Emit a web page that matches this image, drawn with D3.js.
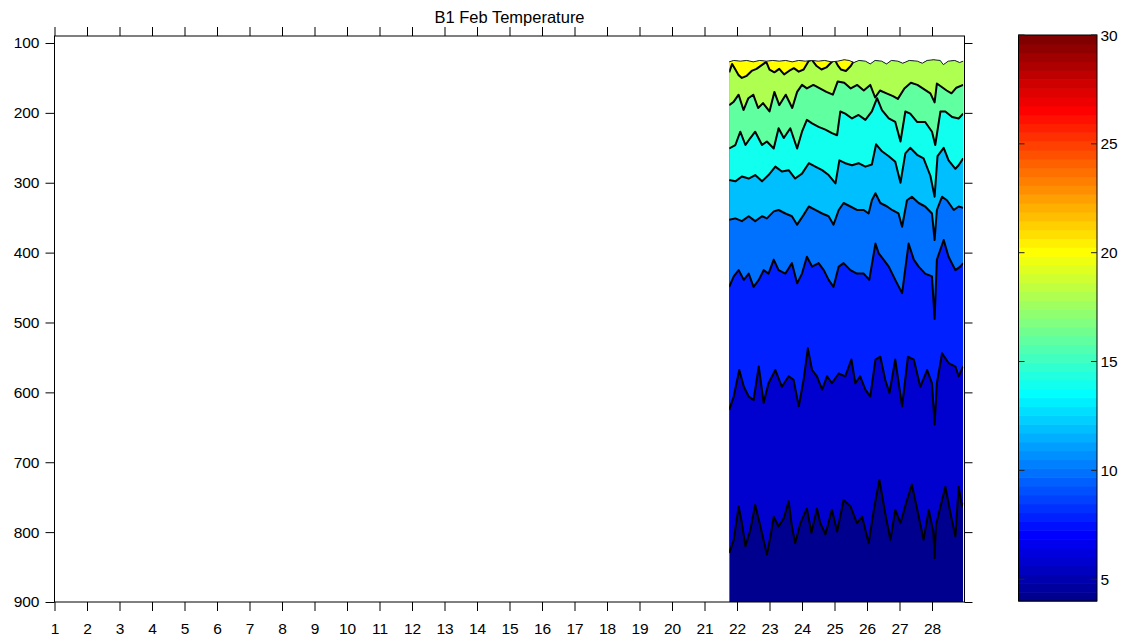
<!DOCTYPE html>
<html><head><meta charset="utf-8">
<script src="https://cdn.jsdelivr.net/npm/d3@7"></script>
<style>body{margin:0;background:#fff} text{font-family:"Liberation Sans",Arial,Helvetica,sans-serif;fill:#000}</style>
</head><body>
<svg id="c" width="1129" height="640"></svg>
<script>
const title = "B1 Feb Temperature";
const xTicks = [1,2,3,4,5,6,7,8,9,10,11,12,13,14,15,16,17,18,19,20,21,22,23,24,25,26,27,28];
const yTicks = [100,200,300,400,500,600,700,800,900];
const cbTicks = [5,10,15,20,25,30];
const xDomain = [1,29], yDomain = [90,900], cDomain = [4,30];
const levels = [6,8,10,12,14,16,18,20];

// top of the sampled water column [day, depth]
const topSurface = [[21.76,127],[21.9,125],[22.1,126],[22.3,125],[22.5,127],[22.7,125],[22.9,126],[23.1,125],[23.3,126],[23.5,125],[23.7,127],[23.9,125],[24.1,126],[24.3,125],[24.5,126],[24.7,125],[24.9,127],[25.1,126],[25.3,124],[25.45,125],[25.6,128],[25.75,125],[25.95,126],[26.1,130],[26.25,125],[26.45,126],[26.6,130],[26.75,125],[26.95,126],[27.1,129],[27.3,125],[27.55,126],[27.7,129],[27.85,125],[28.05,124],[28.25,125],[28.35,131],[28.5,126],[28.7,125],[28.85,128],[28.96,126]];

// isotherm depths [day, depth]
const iso6 = [[21.76,830],[21.90,811],[22.05,763],[22.15,787],[22.26,820],[22.41,797],[22.56,761],[22.72,792],[22.92,832],[23.03,806],[23.13,778],[23.28,792],[23.44,780],[23.59,756],[23.69,792],[23.79,816],[23.95,787],[24.15,766],[24.29,801],[24.46,766],[24.56,787],[24.72,803],[24.92,768],[25.08,799],[25.28,754],[25.49,763],[25.69,787],[25.85,778],[26.05,816],[26.21,768],[26.38,725],[26.56,773],[26.72,811],[26.87,768],[27.03,787],[27.23,754],[27.38,732],[27.57,773],[27.74,811],[27.90,768],[28.04,800],[28.08,837],[28.12,790],[28.21,773],[28.41,735],[28.59,778],[28.72,806],[28.82,735],[28.92,763],[28.96,758]];
const iso8 = [[21.76,625],[21.90,606],[22.07,568],[22.21,592],[22.36,606],[22.51,611],[22.67,563],[22.82,615],[22.97,587],[23.18,568],[23.38,592],[23.59,577],[23.74,582],[23.90,620],[24.05,582],[24.18,537],[24.31,568],[24.46,577],[24.62,596],[24.77,577],[24.92,587],[25.13,573],[25.33,577],[25.52,553],[25.64,587],[25.79,577],[25.95,596],[26.10,606],[26.26,553],[26.41,549],[26.56,582],[26.69,601],[26.87,553],[27.08,620],[27.26,549],[27.44,553],[27.64,592],[27.85,568],[28.00,587],[28.08,646],[28.15,587],[28.31,544],[28.51,558],[28.72,563],[28.82,577],[28.96,563]];
const iso10 = [[21.76,449],[21.90,434],[22.05,425],[22.21,439],[22.36,430],[22.51,449],[22.67,439],[22.82,425],[22.97,430],[23.13,410],[23.28,425],[23.49,430],[23.69,415],[23.85,444],[24.00,430],[24.15,406],[24.31,420],[24.51,415],[24.67,425],[24.82,439],[24.97,449],[25.13,420],[25.28,415],[25.49,425],[25.69,430],[25.90,430],[26.07,439],[26.26,387],[26.36,401],[26.51,410],[26.67,420],[26.87,439],[27.08,458],[27.28,387],[27.44,410],[27.59,420],[27.79,430],[28.00,434],[28.08,495],[28.15,410],[28.36,382],[28.51,406],[28.72,425],[28.87,420],[28.96,415]];
const iso12 = [[21.76,353],[21.95,351],[22.15,355],[22.36,348],[22.56,355],[22.77,348],[22.92,351],[23.13,341],[23.28,339],[23.49,344],[23.69,348],[23.85,360],[24.05,346],[24.21,334],[24.41,339],[24.62,344],[24.82,348],[24.97,360],[25.13,339],[25.28,329],[25.49,334],[25.69,339],[25.90,339],[26.05,344],[26.15,325],[26.26,315],[26.41,329],[26.62,334],[26.77,339],[26.97,344],[27.08,363],[27.23,325],[27.38,320],[27.59,329],[27.79,334],[28.00,344],[28.08,382],[28.15,339],[28.31,320],[28.46,325],[28.67,339],[28.82,334],[28.96,336]];
const iso14 = [[21.76,296],[21.95,298],[22.15,291],[22.36,294],[22.56,289],[22.77,298],[22.97,289],[23.18,277],[23.38,284],[23.59,282],[23.79,294],[24.00,287],[24.21,272],[24.41,277],[24.62,282],[24.82,289],[25.03,301],[25.15,268],[25.33,272],[25.54,275],[25.74,272],[25.95,277],[26.15,274],[26.28,245],[26.46,255],[26.67,262],[26.87,270],[27.03,300],[27.18,258],[27.33,250],[27.54,260],[27.74,265],[27.95,290],[28.08,320],[28.17,262],[28.36,250],[28.51,268],[28.72,280],[28.82,275],[28.96,265]];
const iso16 = [[21.76,251],[21.95,246],[22.10,227],[22.26,246],[22.41,236],[22.56,227],[22.77,246],[22.92,241],[23.13,251],[23.28,222],[23.44,236],[23.64,222],[23.85,251],[24.00,227],[24.15,210],[24.31,215],[24.51,220],[24.72,224],[24.92,229],[25.08,232],[25.18,198],[25.33,201],[25.54,208],[25.74,203],[25.95,210],[26.15,198],[26.31,179],[26.46,196],[26.67,208],[26.87,213],[27.03,241],[27.18,198],[27.33,201],[27.54,213],[27.79,213],[28.00,227],[28.10,246],[28.26,198],[28.41,198],[28.62,206],[28.82,208],[28.96,201]];
const iso18 = [[21.76,189],[21.9,184],[22.05,174],[22.2,196],[22.35,179],[22.5,174],[22.65,193],[22.8,186],[23.0,198],[23.15,170],[23.3,189],[23.5,174],[23.7,193],[23.85,170],[24.0,160],[24.15,165],[24.35,160],[24.55,165],[24.75,170],[24.95,174],[25.1,155],[25.3,157],[25.5,165],[25.7,160],[25.9,168],[26.1,160],[26.25,178],[26.4,168],[26.6,172],[26.8,176],[26.95,180],[27.15,165],[27.35,157],[27.55,160],[27.75,166],[27.95,172],[28.08,185],[28.15,158],[28.3,163],[28.45,168],[28.6,172],[28.75,164],[28.96,160]];
const iso20 = [[21.76,142],[21.85,130],[21.95,138],[22.05,146],[22.15,150],[22.3,147],[22.45,140],[22.6,137],[22.75,132],[22.9,127],[23.0,138],[23.15,142],[23.3,137],[23.45,145],[23.6,140],[23.75,136],[23.9,141],[24.05,138],[24.2,126],[24.3,124],[24.45,133],[24.6,138],[24.75,135],[24.9,128],[25.0,123],[25.1,132],[25.2,138],[25.35,140],[25.5,133],[25.62,124],[25.7,120],[28.96,120]];
const isotherms = [iso6, iso8, iso10, iso12, iso14, iso16, iso18, iso20];

const svg = d3.select("#c");
const x = d3.scaleLinear().domain(xDomain).range([54.5, 964.5]);
const y = d3.scaleLinear().domain(yDomain).range([36, 602]);
const cy = d3.scaleLinear().domain(cDomain).range([601, 35]);

const nColors = 64;
function jet(t){
  const c = v => Math.max(0, Math.min(1, v));
  return d3.rgb(255*c(1.5-Math.abs(4*t-3)), 255*c(1.5-Math.abs(4*t-2)), 255*c(1.5-Math.abs(4*t-1))).toString();
}
function cmap(v){
  let i = Math.floor((v-cDomain[0])/(cDomain[1]-cDomain[0])*nColors)+1;
  i = Math.max(1, Math.min(nColors, i));
  return jet(i/nColors);
}

// clip to the sampled region
const surfArea = d3.area().x(d=>x(d[0])).y0(y(yDomain[1])).y1(d=>y(d[1]));
svg.append("defs").append("clipPath").attr("id","dataClip")
  .append("path").attr("d", surfArea(topSurface));
const g = svg.append("g").attr("clip-path","url(#dataClip)");
g.append("path").attr("d", surfArea(topSurface)).attr("fill", cmap(cDomain[0]));
const bandArea = d3.area().x(d=>x(d[0])).y0(y(yDomain[0])).y1(d=>y(d[1]));
isotherms.forEach((iso,k)=>{
  g.append("path").attr("d", bandArea(iso)).attr("fill", cmap(levels[k]));
});
const line = d3.line().x(d=>x(d[0])).y(d=>y(d[1]));
isotherms.forEach(iso=>{
  g.append("path").attr("d", line(iso)).attr("fill","none")
    .attr("stroke","#000").attr("stroke-width",2).attr("stroke-linejoin","round");
});
svg.append("path").attr("d", line(topSurface)).attr("fill","none").attr("stroke","#222").attr("stroke-width",1);

// axes
const fs = 15.5;
function styleAxis(sel){
  sel.select(".domain").remove();
  sel.selectAll(".tick line").attr("stroke","#000");
  sel.selectAll("text").attr("font-size",fs).attr("fill","#000")
     .style("font-family",'"Liberation Sans",Arial,sans-serif');
}
svg.append("g").attr("transform",`translate(0,${y(yDomain[1])})`)
  .call(d3.axisBottom(x).tickValues(xTicks).tickSize(9).tickPadding(11.5)).call(styleAxis);
svg.append("g").attr("transform",`translate(0,${y(yDomain[0])})`)
  .call(d3.axisTop(x).tickValues(xTicks).tickFormat("").tickSize(9)).call(styleAxis);
svg.append("g").attr("transform",`translate(${x(xDomain[0])},0)`)
  .call(d3.axisLeft(y).tickValues(yTicks).tickSize(9).tickPadding(6)).call(styleAxis);
svg.append("g").attr("transform",`translate(${x(xDomain[1])},0)`)
  .call(d3.axisRight(y).tickValues(yTicks).tickFormat("").tickSize(8)).call(styleAxis);
svg.append("rect").attr("x",x(xDomain[0])).attr("y",y(yDomain[0]))
  .attr("width",x(xDomain[1])-x(xDomain[0])).attr("height",y(yDomain[1])-y(yDomain[0]))
  .attr("fill","none").attr("stroke","#000").attr("stroke-width",1);

svg.append("text").attr("x",(x(xDomain[0])+x(xDomain[1]))/2).attr("y",23)
  .attr("text-anchor","middle").attr("font-size",16.5).text(title);

// colorbar
const cbX = 1018.5, cbW = 78.5;
const step = (cDomain[1]-cDomain[0])/nColors;
const cbData = d3.range(1, nColors+1);
svg.append("g").selectAll("rect").data(cbData).join("rect")
  .attr("x",cbX).attr("width",cbW)
  .attr("y",i=>cy(cDomain[0]+i*step)).attr("height",i=>cy(cDomain[0]+(i-1)*step)-cy(cDomain[0]+i*step)+0.6)
  .attr("fill",i=>jet(i/nColors));
svg.append("rect").attr("x",cbX).attr("y",cy(cDomain[1])).attr("width",cbW)
  .attr("height",cy(cDomain[0])-cy(cDomain[1])).attr("fill","none").attr("stroke","#000");
const cbt = svg.append("g");
cbTicks.forEach(v=>{
  cbt.append("line").attr("x1",cbX).attr("x2",cbX+6).attr("y1",cy(v)).attr("y2",cy(v)).attr("stroke","#222");
  cbt.append("line").attr("x1",cbX+cbW-6).attr("x2",cbX+cbW).attr("y1",cy(v)).attr("y2",cy(v)).attr("stroke","#222");
  cbt.append("text").attr("x",cbX+cbW+3.5).attr("y",cy(v)).attr("dy","0.36em")
    .attr("font-size",fs).text(v);
});
</script>
</body></html>
